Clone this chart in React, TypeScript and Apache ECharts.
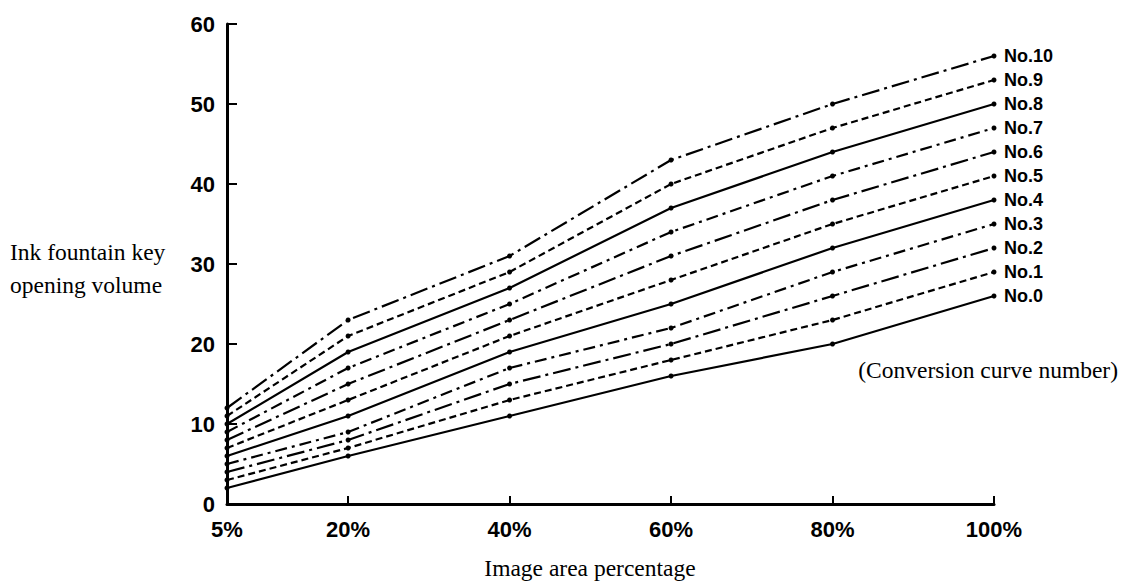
import React, { useEffect, useRef } from "react";
import * as echarts from "echarts";

const xPercent = [5, 20, 40, 60, 80, 100];
const xTickValues = [5, 20, 40, 60, 80, 100];
const yTickInterval = 10;

const curveNames = ["No.0", "No.1", "No.2", "No.3", "No.4", "No.5", "No.6", "No.7", "No.8", "No.9", "No.10"];
const no0 = [2, 6, 11, 16, 20, 26];
const no1 = [3, 7, 13, 18, 23, 29];
const no2 = [4, 8, 15, 20, 26, 32];
const no3 = [5, 9, 17, 22, 29, 35];
const no4 = [6, 11, 19, 25, 32, 38];
const no5 = [7, 13, 21, 28, 35, 41];
const no6 = [8, 15, 23, 31, 38, 44];
const no7 = [9, 17, 25, 34, 41, 47];
const no8 = [10, 19, 27, 37, 44, 50];
const no9 = [11, 21, 29, 40, 47, 53];
const no10 = [12, 23, 31, 43, 50, 56];
const curveValues = [no0, no1, no2, no3, no4, no5, no6, no7, no8, no9, no10];

// line style per curve: solid, dashed, dash-dot, dash-dot repeating
const curveStyles = ["solid", "dash", "dashdot", "dashdot2", "solid", "dash", "dashdot", "dashdot2", "solid", "dash", "dashdot"];

const dashFor = (s: string): any => {
  if (s === "solid") return "solid";
  if (s === "dash") return [7, 4];
  if (s === "dashdot") return [18, 5, 3, 5];
  return [12, 5, 3, 5];
};

export default function App() {
  const ref = useRef<HTMLDivElement>(null);
  useEffect(() => {
    if (!ref.current) return;
    const chart = echarts.init(ref.current, null, { renderer: "svg" });
    const sansFont = "'Liberation Sans', Arial, sans-serif";
    const serifFont = "'Liberation Serif', 'Times New Roman', serif";
    const series = curveNames.map((name, i) => ({
      name,
      type: "line",
      data: xPercent.map((x, j) => [x, curveValues[i][j]]),
      symbol: "circle",
      symbolSize: 5,
      showSymbol: true,
      itemStyle: { color: "#000" },
      lineStyle: { color: "#000", width: 2.2, type: dashFor(curveStyles[i]) },
      endLabel: {
        show: true,
        formatter: "{a}",
        distance: 10,
        color: "#000",
        fontSize: 18,
        fontWeight: "bold",
        fontFamily: sansFont,
      },
      z: 3,
    }));
    chart.setOption({
      animation: false,
      backgroundColor: "#fff",
      grid: { left: 227, right: 132, top: 24, bottom: 82, containLabel: false },
      xAxis: {
        type: "value",
        min: 5,
        max: 100,
        axisLine: { show: true, lineStyle: { color: "#000", width: 3 } },
        axisTick: { show: true, inside: true, length: 8, customValues: xTickValues, lineStyle: { color: "#000", width: 2 } },
        axisLabel: {
          customValues: xTickValues,
          formatter: "{value}%",
          color: "#000",
          fontSize: 22,
          fontWeight: "bold",
          fontFamily: sansFont,
          margin: 14,
        },
        splitLine: { show: false },
      },
      yAxis: {
        type: "value",
        min: 0,
        max: 60,
        interval: yTickInterval,
        axisLine: { show: true, lineStyle: { color: "#000", width: 3 } },
        axisTick: { show: true, inside: true, length: 10, lineStyle: { color: "#000", width: 2 } },
        axisLabel: { color: "#000", fontSize: 22, fontWeight: "bold", fontFamily: sansFont, margin: 12 },
        splitLine: { show: false },
      },
      series,
      graphic: [
        { type: "text", left: 10, top: 240, style: { text: "Ink fountain key", font: `23.5px ${serifFont}`, fill: "#000" } },
        { type: "text", left: 10, top: 273, style: { text: "opening volume", font: `23.5px ${serifFont}`, fill: "#000" } },
        { type: "text", x: 590, y: 568, style: { text: "Image area percentage", font: `23.5px ${serifFont}`, fill: "#000", align: "center", verticalAlign: "middle" } },
        { type: "text", x: 1118, y: 370, style: { text: "(Conversion curve number)", font: `23.5px ${serifFont}`, fill: "#000", align: "right", verticalAlign: "middle" } },
      ],
    });
    return () => chart.dispose();
  }, []);
  return <div ref={ref} style={{ position: "fixed", left: 0, top: 0, width: 1126, height: 586 }} />;
}
